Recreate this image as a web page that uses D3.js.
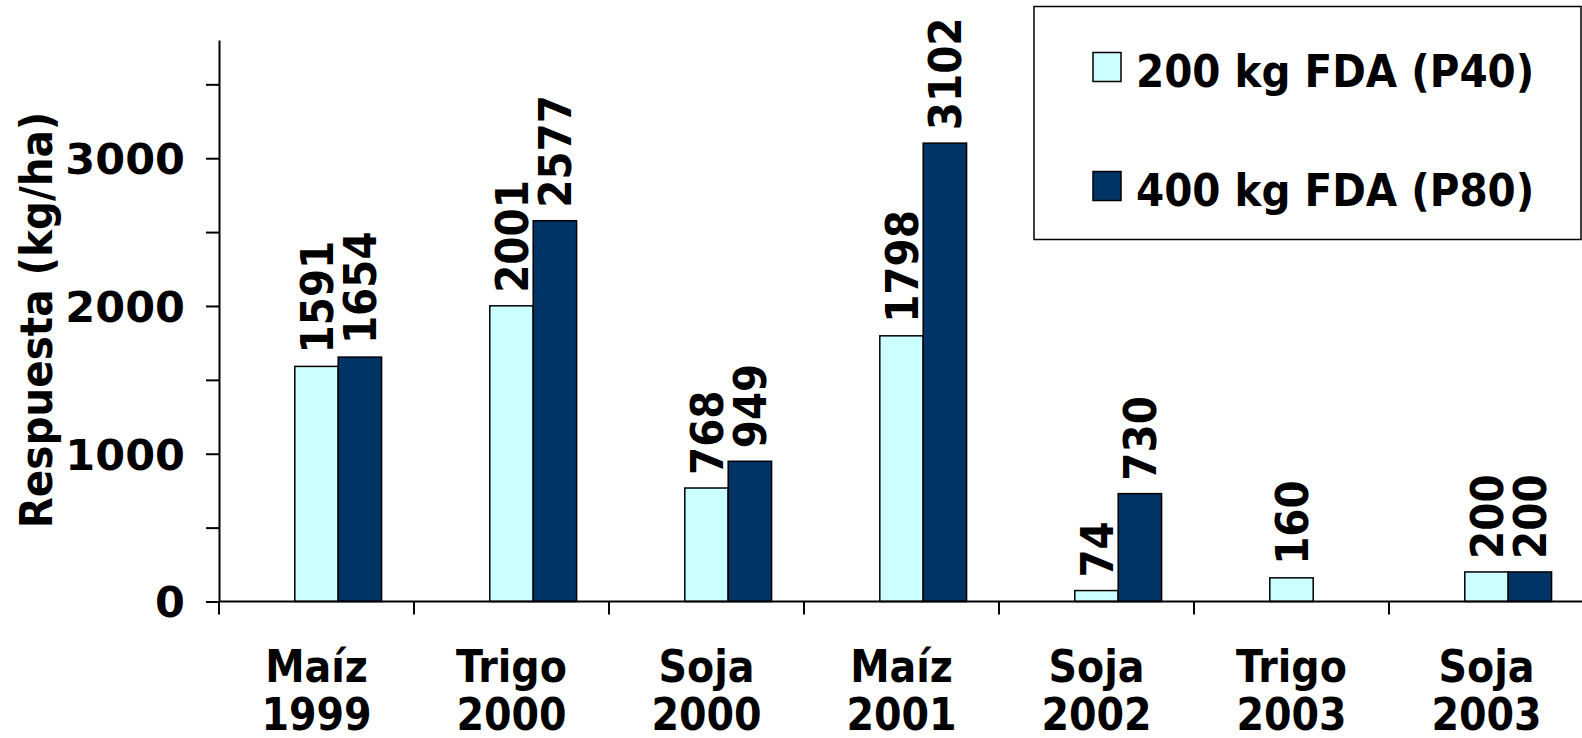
<!DOCTYPE html>
<html>
<head>
<meta charset="utf-8">
<script src="https://cdn.jsdelivr.net/npm/d3@7"></script>
<style>
  html, body { margin: 0; padding: 0; background: #fff; }
  svg { display: block; }
  .cond { font-family: "DejaVu Sans Condensed", "DejaVu Sans", sans-serif; font-stretch: condensed; font-weight: bold; }
  .wide { font-family: "DejaVu Sans", Verdana, sans-serif; font-weight: bold; }
</style>
</head>
<body>
<script>
// Crop / year of each trial
const cultivos = ["Maíz", "Trigo", "Soja", "Maíz", "Soja", "Trigo", "Soja"];
const campanias = ["1999", "2000", "2000", "2001", "2002", "2003", "2003"];
// Yield response (kg/ha) for each phosphate dose
const serieP40 = [1591, 2001, 768, 1798, 74, 160, 200];
const serieP80 = [1654, 2577, 949, 3102, 730, null, 200];
const nombresSeries = ["200 kg FDA (P40)", "400 kg FDA (P80)"];
const coloresSeries = ["#CCFFFF", "#003366"];
const yTicks = [0, 500, 1000, 1500, 2000, 2500, 3000, 3500];
const yMax = 3800;
const yTitulo = "Respuesta (kg/ha)";

const W = 1582, H = 738;
const svg = d3.select("body").append("svg").attr("width", W).attr("height", H);

const x0 = 219, x1 = 1584, yBase = 601.5;
const x = d3.scaleBand().domain(d3.range(cultivos.length)).range([x0, x1]).padding(0);
const y = d3.scaleLinear().domain([0, yMax]).range([yBase, 40]);
const bw = x.bandwidth() * 0.2225;

// bars: light bar centred on category, dark bar immediately to its right
const g = svg.append("g");
cultivos.forEach((c, i) => {
  const cx = x(i) + x.bandwidth() / 2;
  const vals = [serieP40[i], serieP80[i]];
  vals.forEach((v, s) => {
    if (v == null) return;
    const left = cx - bw / 2 + s * bw;
    g.append("rect")
      .attr("x", left).attr("y", y(v))
      .attr("width", bw).attr("height", y(0) - y(v))
      .attr("fill", coloresSeries[s])
      .attr("stroke", "#000").attr("stroke-width", 1.5);
    // value label, rotated, reading upward
    g.append("text")
      .attr("class", "cond")
      .attr("transform", `translate(${left + bw / 2 + 16},${y(v) - 13}) rotate(-90)`)
      .attr("font-size", 45)
      .attr("text-anchor", "start")
      .text(v);
  });
});

// y axis
const yAxis = d3.axisLeft(y).tickValues(yTicks).tickSize(13).tickSizeOuter(0).tickPadding(21)
  .tickFormat(d => d % 1000 === 0 ? d : "");
const ya = svg.append("g").attr("transform", `translate(${x0},0)`).call(yAxis);
ya.select(".domain").attr("stroke", "#000").attr("stroke-width", 2);
ya.selectAll(".tick line").attr("stroke", "#000").attr("stroke-width", 2);
ya.selectAll(".tick text").attr("class", "wide").attr("font-size", 43).attr("fill", "#000").attr("dy", "0.36em");

// x axis with ticks between categories
const xa = svg.append("g").attr("transform", `translate(0,${yBase})`);
xa.append("line").attr("x1", x0).attr("x2", W).attr("stroke", "#000").attr("stroke-width", 2);
d3.range(cultivos.length + 1).forEach(i => {
  const xx = x0 + i * x.bandwidth();
  xa.append("line").attr("x1", xx).attr("x2", xx).attr("y1", 0).attr("y2", 13)
    .attr("stroke", "#000").attr("stroke-width", 2);
});
cultivos.forEach((c, i) => {
  const t = xa.append("text").attr("class", "cond").attr("font-size", 44)
    .attr("text-anchor", "middle").attr("x", x(i) + x.bandwidth() / 2);
  t.append("tspan").attr("x", x(i) + x.bandwidth() / 2).attr("y", 80).text(c);
  t.append("tspan").attr("x", x(i) + x.bandwidth() / 2).attr("y", 128).text(campanias[i]);
});

// y axis title
svg.append("text").attr("class", "cond").attr("font-size", 45)
  .attr("text-anchor", "middle")
  .attr("transform", `translate(52,320) rotate(-90)`)
  .text(yTitulo);

// legend
const lg = svg.append("g");
lg.append("rect").attr("x", 1034).attr("y", 6.5).attr("width", 547).attr("height", 233)
  .attr("fill", "#fff").attr("stroke", "#000").attr("stroke-width", 1.5);
nombresSeries.forEach((n, s) => {
  const yy = 52.5 + s * 119;
  lg.append("rect").attr("x", 1093).attr("y", yy).attr("width", 28).attr("height", 29)
    .attr("fill", coloresSeries[s]).attr("stroke", "#000").attr("stroke-width", 1.5);
  lg.append("text").attr("class", "cond").attr("font-size", 45)
    .attr("x", 1136).attr("y", yy + 34).text(n);
});
</script>
</body>
</html>
